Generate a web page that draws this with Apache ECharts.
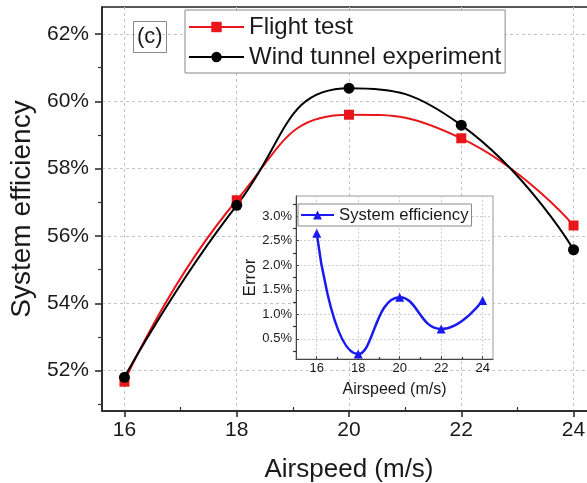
<!DOCTYPE html>
<html>
<head>
<meta charset="utf-8">
<script src="https://cdn.jsdelivr.net/npm/echarts@6/dist/echarts.min.js"></script>
<style>
    html, body { margin: 0; padding: 0; background: #fff; }
    #chart { width: 587px; height: 483px; }
</style>
</head>
<body>
<div id="chart"></div>
<script>
    // airspeed (m/s) and efficiencies (%)
    const airspeed = [16, 18, 20, 22, 24];
    const flightTest = [51.67, 57.06, 59.6, 58.9, 56.31];
    const windTunnel = [51.8, 56.91, 60.39, 59.29, 55.59];
    const errorPct = [2.65, 0.19, 1.35, 0.7, 1.28];

    // tick positions
    const xMajor = [16, 18, 20, 22, 24];
    const xMinor = [17, 19, 21, 23];
    const yMajor = [52, 54, 56, 58, 60, 62];
    const yMinor = [51, 53, 55, 57, 59, 61];
    const insetYMajor = [0.5, 1.0, 1.5, 2.0, 2.5, 3.0];
    const insetYMinor = [0.25, 0.75, 1.25, 1.75, 2.25, 2.75, 3.25];

    const red = '#e8161b';
    const blue = '#1a1aee';
    const ink = '#1a1a1a';
    const font = 'Liberation Sans';

    function pairs(xs, ys) {
        return xs.map((x, i) => [x, ys[i]]);
    }

    function minorAxis(gridIndex, min, max, position, values, length, inside) {
        return {
            type: 'value',
            gridIndex: gridIndex,
            min: min,
            max: max,
            position: position,
            axisLine: { show: false, onZero: false },
            axisTick: { show: true, customValues: values, length: length, inside: inside, lineStyle: { color: '#333', width: 1.2 } },
            axisLabel: { show: false },
            splitLine: { show: false },
        };
    }

    const chart = echarts.init(document.getElementById('chart'));

    chart.setOption({
        animation: false,
        backgroundColor: '#fff',
        textStyle: { fontFamily: font },

        title: {
            text: '(c)',
            left: 133,
            top: 21,
            padding: [5, 4],
            borderColor: '#888',
            borderWidth: 1,
            textStyle: { fontSize: 22, fontWeight: 'normal', color: ink, lineHeight: 22, fontFamily: font },
        },

        legend: [
            {
                data: ['Flight test', 'Wind tunnel experiment'],
                orient: 'vertical',
                left: 185,
                top: 10,
                padding: [5, 4, 4, 3],
                itemWidth: 55,
                itemHeight: 13,
                itemGap: 6,
                backgroundColor: '#fff',
                borderColor: '#888',
                borderWidth: 1,
                z: 8,
                textStyle: { fontSize: 24, lineHeight: 24, color: ink, fontFamily: font },
            },
            {
                data: ['System efficiency'],
                left: 298,
                top: 204,
                padding: [2, 3, 2, 2],
                itemWidth: 33,
                itemHeight: 11,
                backgroundColor: '#fff',
                borderColor: '#888',
                borderWidth: 1,
                z: 8,
                textStyle: { fontSize: 16.7, lineHeight: 18, color: ink, fontFamily: font },
            },
        ],

        grid: [
            {
                left: 102, top: 7, right: -9, bottom: 72,
                show: true, borderColor: '#222', borderWidth: 1.5,
                outerBoundsMode: 'none',
            },
            {
                left: 296, top: 196, right: 94, bottom: 124,
                show: true, backgroundColor: '#fff', borderColor: '#999', borderWidth: 1,
                outerBoundsMode: 'none',
                z: 5,
            },
        ],

        xAxis: [
            {
                type: 'value',
                gridIndex: 0,
                min: 15.6,
                max: 24.4,
                position: 'bottom',
                axisLine: { show: true, onZero: false, lineStyle: { color: '#222', width: 1.5 } },
                axisTick: { show: true, customValues: xMajor, length: 6, lineStyle: { color: '#222', width: 1.5 } },
                axisLabel: { customValues: xMajor, fontSize: 21, color: ink, margin: 9, fontFamily: font },
                splitLine: { show: true, lineStyle: { color: '#c4c4c4', type: [3, 3], width: 1 } },
                name: 'Airspeed (m/s)',
                nameLocation: 'middle',
                nameGap: 46,
                nameTextStyle: { fontSize: 26, color: ink, fontFamily: font },
            },
            minorAxis(0, 15.6, 24.4, 'bottom', xMinor, 4, true),
            {
                type: 'value',
                gridIndex: 1,
                min: 15,
                max: 24.5,
                position: 'bottom',
                z: 6,
                axisLine: { show: true, onZero: false, lineStyle: { color: '#444', width: 1 } },
                axisTick: { show: true, customValues: xMajor, length: 3, inside: true, lineStyle: { color: '#444' } },
                axisLabel: { customValues: xMajor, fontSize: 13, color: ink, margin: 3, fontFamily: font },
                splitLine: { show: true, lineStyle: { color: '#cfcfcf', type: [2, 2], width: 1 } },
                name: 'Airspeed (m/s)',
                nameLocation: 'middle',
                nameGap: 23,
                nameTextStyle: { fontSize: 16, color: ink, fontFamily: font },
            },
            Object.assign(minorAxis(1, 15, 24.5, 'bottom', xMinor, 2, true), { z: 6 }),
        ],

        yAxis: [
            {
                type: 'value',
                gridIndex: 0,
                min: 50.8,
                max: 62.8,
                position: 'left',
                axisLine: { show: true, onZero: false, lineStyle: { color: '#222', width: 1.5 } },
                axisTick: { show: true, customValues: yMajor, length: 7, lineStyle: { color: '#222', width: 1.5 } },
                axisLabel: {
                    customValues: yMajor,
                    formatter: (v) => Math.round(v) + '%',
                    fontSize: 21,
                    color: ink,
                    margin: 13,
                    fontFamily: font,
                },
                splitLine: { show: true, lineStyle: { color: '#c4c4c4', type: [3, 3], width: 1 } },
                name: 'System efficiency',
                nameLocation: 'middle',
                nameGap: 62,
                nameTextStyle: { fontSize: 28, color: ink, fontFamily: font },
            },
            minorAxis(0, 50.8, 62.8, 'left', yMinor, 4, false),
            {
                type: 'value',
                gridIndex: 1,
                min: 0.09,
                max: 3.41,
                position: 'left',
                z: 6,
                axisLine: { show: true, onZero: false, lineStyle: { color: '#444', width: 1 } },
                axisTick: { show: true, customValues: insetYMajor, length: 3, inside: true, lineStyle: { color: '#444' } },
                axisLabel: {
                    customValues: insetYMajor,
                    formatter: (v) => v.toFixed(1) + '%',
                    fontSize: 13,
                    color: ink,
                    margin: 4,
                    fontFamily: font,
                },
                splitLine: { show: true, lineStyle: { color: '#cfcfcf', type: [2, 2], width: 1 } },
                name: 'Error',
                nameLocation: 'middle',
                nameGap: 36,
                nameTextStyle: { fontSize: 17, color: ink, fontFamily: font },
            },
            Object.assign(minorAxis(1, 0.09, 3.41, 'left', insetYMinor, 3, false), { z: 6 }),
        ],

        series: [
            {
                name: 'Flight test',
                type: 'line',
                xAxisIndex: 0,
                yAxisIndex: 0,
                data: pairs(airspeed, flightTest),
                smooth: true,
                smoothMonotone: 'none',
                symbol: 'rect',
                symbolSize: 10,
                lineStyle: { color: red, width: 2 },
                itemStyle: { color: red },
                z: 3,
            },
            {
                name: 'Wind tunnel experiment',
                type: 'line',
                xAxisIndex: 0,
                yAxisIndex: 0,
                data: pairs(airspeed, windTunnel),
                smooth: true,
                smoothMonotone: 'none',
                symbol: 'circle',
                symbolSize: 11,
                lineStyle: { color: '#000', width: 2 },
                itemStyle: { color: '#000' },
                z: 3,
            },
            {
                name: 'System efficiency',
                type: 'line',
                xAxisIndex: 2,
                yAxisIndex: 2,
                data: pairs(airspeed, errorPct),
                smooth: true,
                smoothMonotone: 'none',
                symbol: 'triangle',
                symbolSize: 9,
                lineStyle: { color: blue, width: 2.5 },
                itemStyle: { color: blue },
                z: 7,
            },
        ],
    });
</script>
</body>
</html>
